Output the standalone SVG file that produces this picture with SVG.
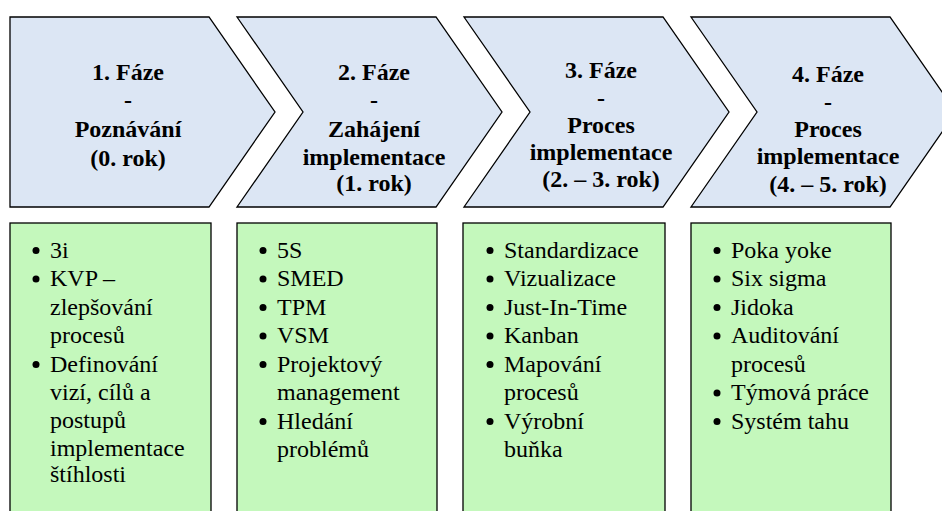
<svg xmlns="http://www.w3.org/2000/svg" width="942" height="511" viewBox="0 0 942 511">
<style>
.chev{fill:#DCE6F4;stroke:#000;stroke-width:1.3;stroke-linejoin:miter}
.box{fill:#C4F8BC;stroke:#000;stroke-width:1.3}
.h{font-family:'Liberation Serif','Times New Roman',serif;font-size:24px;font-weight:bold;fill:#000;text-anchor:middle}
.t{font-family:'Liberation Serif','Times New Roman',serif;font-size:24px;fill:#000}
.b{fill:#000}
</style>
<rect width="942" height="511" fill="#fff"/>
<g id="phase1">
<polygon class="chev" points="10,17 209,17 275,112 209,207 10,207"/>
<text class="h" x="128" y="80">1. Fáze</text>
<text class="h" x="128" y="108">-</text>
<text class="h" x="128" y="137">Poznávání</text>
<text class="h" x="128" y="166">(0. rok)</text>
</g>
<g id="phase2">
<polygon class="chev" points="237,17 436,17 502,112 436,207 237,207 303,112"/>
<text class="h" x="374" y="80">2. Fáze</text>
<text class="h" x="374" y="108">-</text>
<text class="h" x="374" y="137">Zahájení</text>
<text class="h" x="374" y="165">implementace</text>
<text class="h" x="374" y="191">(1. rok)</text>
</g>
<g id="phase3">
<polygon class="chev" points="464,17 663,17 729,112 663,207 464,207 530,112"/>
<text class="h" x="601" y="78">3. Fáze</text>
<text class="h" x="601" y="106">-</text>
<text class="h" x="601" y="133">Proces</text>
<text class="h" x="601" y="160">implementace</text>
<text class="h" x="601" y="187">(2. – 3. rok)</text>
</g>
<g id="phase4">
<polygon class="chev" points="691,17 890,17 956,112 890,207 691,207 757,112"/>
<text class="h" x="828" y="82">4. Fáze</text>
<text class="h" x="828" y="110">-</text>
<text class="h" x="828" y="137">Proces</text>
<text class="h" x="828" y="164">implementace</text>
<text class="h" x="828" y="192">(4. – 5. rok)</text>
</g>
<g id="list1">
<rect class="box" x="10" y="223" width="201" height="300"/>
<circle class="b" cx="36" cy="250.5" r="3.5"/>
<circle class="b" cx="36" cy="279" r="3.5"/>
<circle class="b" cx="36" cy="364.5" r="3.5"/>
<text class="t" x="50" y="257.5">3i</text>
<text class="t" x="50" y="286">KVP –</text>
<text class="t" x="50" y="314.5">zlepšování</text>
<text class="t" x="50" y="343">procesů</text>
<text class="t" x="50" y="371.5">Definování</text>
<text class="t" x="50" y="400">vizí, cílů a</text>
<text class="t" x="50" y="428">postupů</text>
<text class="t" x="50" y="456">implementace</text>
<text class="t" x="50" y="482">štíhlosti</text>
</g>
<g id="list2">
<rect class="box" x="237" y="223" width="200" height="300"/>
<circle class="b" cx="263" cy="250.5" r="3.5"/>
<circle class="b" cx="263" cy="279" r="3.5"/>
<circle class="b" cx="263" cy="307.5" r="3.5"/>
<circle class="b" cx="263" cy="336" r="3.5"/>
<circle class="b" cx="263" cy="364.5" r="3.5"/>
<circle class="b" cx="263" cy="421.5" r="3.5"/>
<text class="t" x="277" y="257.5">5S</text>
<text class="t" x="277" y="286">SMED</text>
<text class="t" x="277" y="314.5">TPM</text>
<text class="t" x="277" y="343">VSM</text>
<text class="t" x="277" y="371.5">Projektový</text>
<text class="t" x="277" y="400">management</text>
<text class="t" x="277" y="428.5">Hledání</text>
<text class="t" x="277" y="457">problémů</text>
</g>
<g id="list3">
<rect class="box" x="463" y="223" width="202" height="300"/>
<circle class="b" cx="490" cy="250.5" r="3.5"/>
<circle class="b" cx="490" cy="279" r="3.5"/>
<circle class="b" cx="490" cy="307.5" r="3.5"/>
<circle class="b" cx="490" cy="336" r="3.5"/>
<circle class="b" cx="490" cy="364.5" r="3.5"/>
<circle class="b" cx="490" cy="421.5" r="3.5"/>
<text class="t" x="504" y="257.5">Standardizace</text>
<text class="t" x="504" y="286">Vizualizace</text>
<text class="t" x="504" y="314.5">Just-In-Time</text>
<text class="t" x="504" y="343">Kanban</text>
<text class="t" x="504" y="371.5">Mapování</text>
<text class="t" x="504" y="400">procesů</text>
<text class="t" x="504" y="428.5">Výrobní</text>
<text class="t" x="504" y="457">buňka</text>
</g>
<g id="list4">
<rect class="box" x="691" y="223" width="200" height="300"/>
<circle class="b" cx="717" cy="250.5" r="3.5"/>
<circle class="b" cx="717" cy="279" r="3.5"/>
<circle class="b" cx="717" cy="307.5" r="3.5"/>
<circle class="b" cx="717" cy="336" r="3.5"/>
<circle class="b" cx="717" cy="393" r="3.5"/>
<circle class="b" cx="717" cy="421.5" r="3.5"/>
<text class="t" x="731" y="257.5">Poka yoke</text>
<text class="t" x="731" y="286">Six sigma</text>
<text class="t" x="731" y="314.5">Jidoka</text>
<text class="t" x="731" y="343">Auditování</text>
<text class="t" x="731" y="371.5">procesů</text>
<text class="t" x="731" y="400">Týmová práce</text>
<text class="t" x="731" y="428.5">Systém tahu</text>
</g>
<g id="connectors"></g>
</svg>
